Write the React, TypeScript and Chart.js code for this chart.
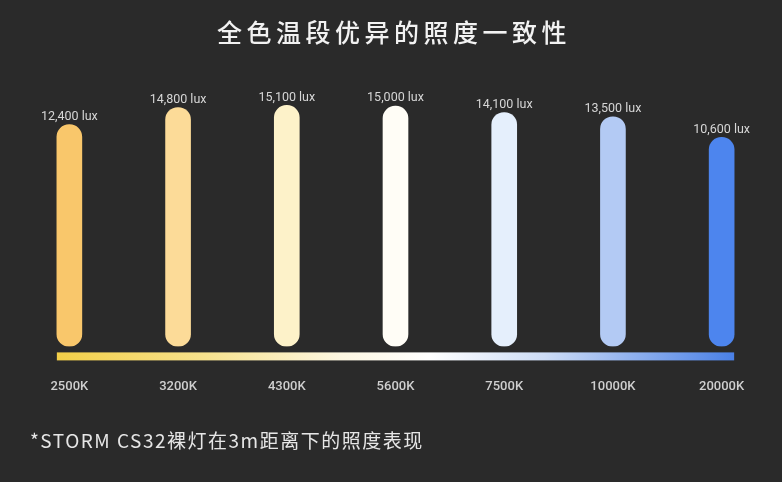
import { useEffect, useRef } from 'react';
import { Chart, registerables } from 'chart.js';

Chart.register(...registerables);

const temperatures = ['2500K', '3200K', '4300K', '5600K', '7500K', '10000K', '20000K'];
const luxValues = [12400, 14800, 15100, 15000, 14100, 13500, 10600];
const barColors = ['#f9c76b', '#fcdb98', '#fdf2c9', '#fffdf6', '#e5effc', '#b3caf4', '#4d85ee'];

const TITLE = '全色温段优异的照度一致性';
const FOOTNOTE = '*STORM CS32裸灯在3m距离下的照度表现';

const BG = '#2a2a2a';

const textPlugin = {
  id: 'captions',
  beforeDraw(chart: Chart) {
    const { ctx, width, height } = chart;
    ctx.save();
    ctx.fillStyle = BG;
    ctx.fillRect(0, 0, width, height);
    ctx.restore();
  },
  beforeDatasetsDraw(chart: Chart) {
    const { ctx, chartArea } = chart;
    const bars = chart.getDatasetMeta(0).data as any[];
    if (!bars.length) return;
    const first = bars[0];
    const last = bars[bars.length - 1];
    const x0 = first.x - first.width / 2;
    const x1 = last.x + last.width / 2;
    const y = chartArea.bottom + 6;
    const grad = ctx.createLinearGradient(x0, 0, x1, 0);
    grad.addColorStop(0, '#f3cf48');
    grad.addColorStop(0.22, '#f7e28e');
    grad.addColorStop(0.42, '#fdf7e2');
    grad.addColorStop(0.55, '#ffffff');
    grad.addColorStop(0.72, '#cddcf6');
    grad.addColorStop(1, '#4a80e6');
    ctx.save();
    ctx.fillStyle = grad;
    ctx.fillRect(x0, y, x1 - x0, 8);
    ctx.restore();
  },
  afterDatasetsDraw(chart: Chart) {
    const { ctx } = chart;
    const bars = chart.getDatasetMeta(0).data as any[];
    ctx.save();
    ctx.fillStyle = '#d6d6d6';
    ctx.font = '12.5px Roboto, "Noto Sans", sans-serif';
    ctx.textAlign = 'center';
    ctx.textBaseline = 'middle';
    bars.forEach((bar, i) => {
      ctx.fillText(luxValues[i].toLocaleString('en-US') + ' lux', bar.x, bar.y - 8);
    });
    ctx.restore();
  },
  afterDraw(chart: Chart) {
    const { ctx, width } = chart;
    ctx.save();
    ctx.fillStyle = '#f2f2f2';
    ctx.textBaseline = 'middle';
    (ctx as any).letterSpacing = '4.5px';
    ctx.font = '500 25px "Noto Sans CJK SC", sans-serif';
    ctx.textAlign = 'center';
    ctx.fillText(TITLE, width / 2 + 3, 32);
    (ctx as any).letterSpacing = '1.5px';
    ctx.font = '19px "Noto Sans CJK SC", sans-serif';
    ctx.fillStyle = '#e6e6e6';
    ctx.textAlign = 'left';
    ctx.fillText(FOOTNOTE, 30, 441);
    ctx.restore();
  },
};

export default function App() {
  const chartRef = useRef<HTMLCanvasElement>(null);
  const chartInstance = useRef<Chart | null>(null);

  useEffect(() => {
    document.body.style.margin = '0';
    document.body.style.background = BG;
    if (!chartRef.current) return;
    if (chartInstance.current) {
      chartInstance.current.destroy();
    }
    const ctx = chartRef.current.getContext('2d');
    if (!ctx) return;

    chartInstance.current = new Chart(ctx, {
      type: 'bar',
      data: {
        labels: temperatures,
        datasets: [
          {
            label: 'Illuminance',
            data: luxValues,
            backgroundColor: barColors,
            borderRadius: 13,
            borderSkipped: false,
            barThickness: 25,
            base: -18800,
          },
        ],
      },
      options: {
        responsive: false,
        animation: false,
        layout: {
          padding: { top: 99, bottom: 54, left: 15, right: 6 },
        },
        scales: {
          x: {
            grid: { display: false, drawTicks: false },
            border: { display: false },
            ticks: {
              color: '#cfcfcf',
              padding: 33,
              font: { size: 13, weight: 500, family: 'Roboto, "Noto Sans", sans-serif' },
            },
          },
          y: {
            display: false,
            min: -18800,
            max: 16000,
          },
        },
        plugins: {
          legend: { display: false },
          tooltip: { enabled: false },
        },
      },
      plugins: [textPlugin],
    });

    return () => {
      if (chartInstance.current) {
        chartInstance.current.destroy();
        chartInstance.current = null;
      }
    };
  }, []);

  return (
    <div style={{ width: 782, height: 482, background: BG }}>
      <canvas ref={chartRef} width={782} height={482} />
    </div>
  );
}
